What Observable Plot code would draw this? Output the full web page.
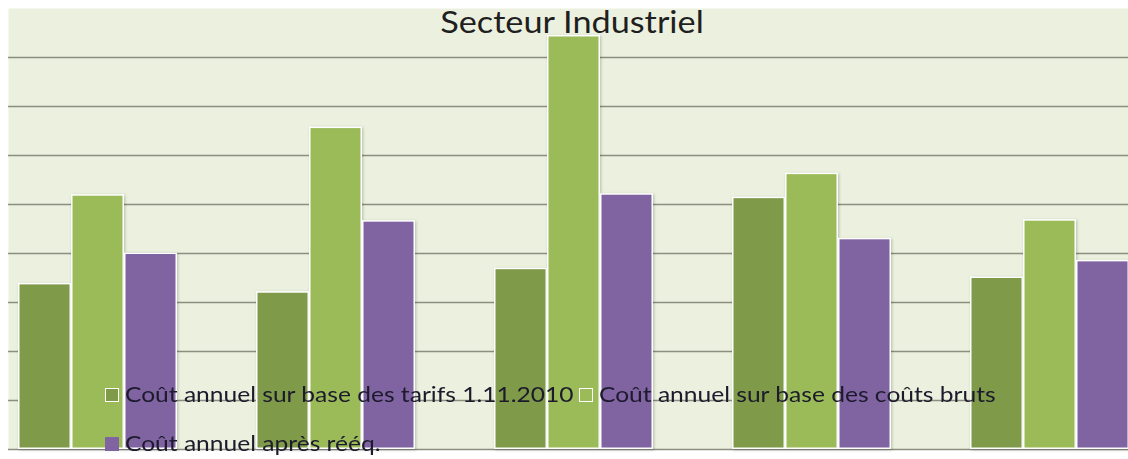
<!DOCTYPE html>
<html>
<head>
<meta charset="utf-8">
<script src="https://cdn.jsdelivr.net/npm/d3@7"></script>
<script src="https://cdn.jsdelivr.net/npm/@observablehq/plot@0.6"></script>
<style>
  html, body { margin: 0; padding: 0; background: #ffffff; }
  #wrap { position: relative; width: 1128px; height: 459px; overflow: hidden; font-family: Lato, "Open Sans", sans-serif; }
  #wrap svg { position: absolute; left: 0; top: 0; }
  #title { position: absolute; top: 6px; left: 572px; transform: translateX(-50%) scaleX(1.105); font-size: 31px; line-height: 31px; color: #1f1f1f; white-space: nowrap; }
  .leg { position: absolute; display: flex; align-items: center; font-size: 21px; line-height: 21px; color: #1c1a2c; white-space: nowrap; }
  .sw { display: inline-block; width: 14px; height: 14px; box-sizing: border-box; margin-right: 6px; position: relative; top: 1px; }
  .lt { display: inline-block; transform: scaleX(1.17); transform-origin: 0 50%; }
  g[aria-label="bar"] rect { filter: drop-shadow(1.5px 1px 1.5px rgba(0,0,0,0.22)); }
</style>
</head>
<body>
<div id="wrap"></div>
<script>
// ---- data ----
const title = "Secteur Industriel";
const categories = ["Groupe 1", "Groupe 2", "Groupe 3", "Groupe 4", "Groupe 5"];
const seriesNames = [
  "Coût annuel sur base des tarifs 1.11.2010",
  "Coût annuel sur base des coûts bruts",
  "Coût annuel après rééq."
];
const coutTarifs    = [3.39, 3.22, 3.70, 5.15, 3.52];
const coutBruts     = [5.20, 6.58, 8.45, 5.64, 4.69];
const coutApresReeq = [4.01, 4.67, 5.22, 4.31, 3.86];
const gridTicks = [0, 1, 2, 3, 4, 5, 6, 7, 8];
const seriesColors = ["#7f9a48", "#9bbb59", "#8064a2"];

// ---- table ----
const seriesValues = [coutTarifs, coutBruts, coutApresReeq];
const table = categories.flatMap((c, i) =>
  seriesNames.map((s, j) => ({category: c, series: s, value: seriesValues[j][i]}))
);

const common = {
  width: 1128,
  height: 459,
  marginLeft: 8,
  marginRight: 0,
  marginTop: 8,
  marginBottom: 10,
  y: {domain: [0, 9], range: [449, 8], axis: null, label: null}
};

// background layer: plot area and gridlines
const back = Plot.plot({
  ...common,
  style: {background: "#ffffff"},
  x: {axis: null},
  marks: [
    Plot.frame({fill: "#ebf1de", stroke: null}),
    Plot.ruleY(gridTicks, {y: d => d, stroke: "#8b8e80", strokeWidth: 1.5})
  ]
});

// foreground layer: grouped bars
const front = Plot.plot({
  ...common,
  style: {background: "transparent", overflow: "hidden"},
  fx: {domain: categories, range: [-21.75, 1168.25], paddingInner: 0.334, paddingOuter: 0.167, axis: null, label: null},
  x: {domain: seriesNames, padding: 0, axis: null, label: null},
  color: {domain: seriesNames, range: seriesColors},
  marks: [
    Plot.barY(table, {fx: "category", x: "series", y: "value", fill: "series", stroke: "#ffffff", strokeWidth: 1.5, inset: 0.75})
  ]
});

const wrap = document.getElementById("wrap");
wrap.appendChild(back);
wrap.appendChild(front);

const t = document.createElement("div");
t.id = "title";
t.textContent = title;
wrap.appendChild(t);

const legendPlaces = [
  {left: 105, top: 383, border: "1.5px solid #ffffff"},
  {left: 579, top: 383, border: "1.5px solid #ffffff"},
  {left: 105, top: 432, border: "none"}
];
seriesNames.forEach((name, i) => {
  const item = document.createElement("div");
  item.className = "leg";
  item.style.left = legendPlaces[i].left + "px";
  item.style.top = legendPlaces[i].top + "px";
  const sw = document.createElement("span");
  sw.className = "sw";
  sw.style.background = seriesColors[i];
  sw.style.border = legendPlaces[i].border;
  const tx = document.createElement("span");
  tx.className = "lt";
  tx.textContent = name;
  item.appendChild(sw);
  item.appendChild(tx);
  wrap.appendChild(item);
});
</script>
</body>
</html>
